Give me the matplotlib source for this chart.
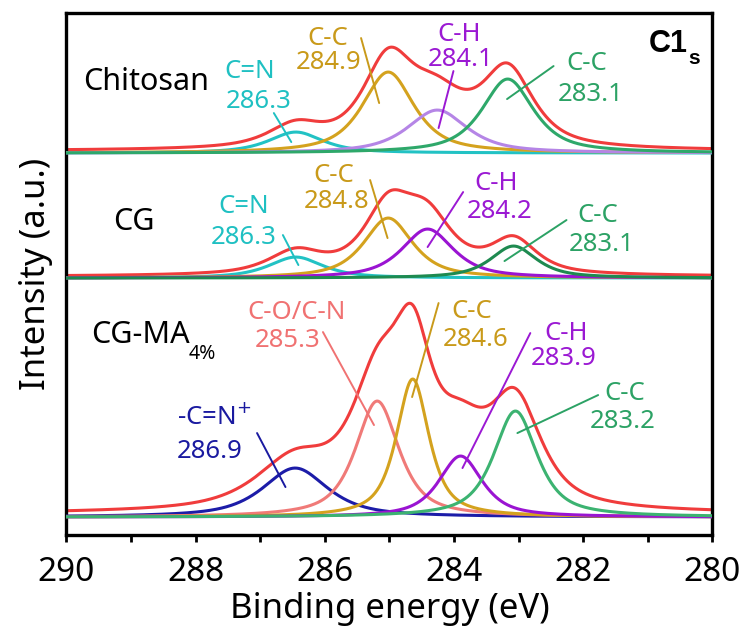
import numpy as np
import matplotlib
matplotlib.use("Agg")
import matplotlib.pyplot as plt

plt.rcParams['font.family'] = ['Noto Sans', 'DejaVu Sans']

# ---------------- data ----------------
energy = np.linspace(280, 290, 1201)

samples = ["Chitosan", "CG", "CG-MA"]
offsets = [382, 257, 18]           # vertical stacking offsets (a.u.)
env_gain = [1.03, 1.05, 0.97]      # envelope / sum-of-components ratio
env_broaden = [1.0, 1.0, 1.2]      # envelope (measured) broadening vs fitted peaks
env_bg = [2.0, 1.5, 3.0]
eta = 0.75                         # Lorentzian fraction of the pseudo-Voigt

# component peaks per sample: centre (eV), height (a.u.), FWHM (eV)
chitosan_names = ["C=N", "C-C", "C-H", "C-C"]
chitosan_centers = [286.45, 285.02, 284.26, 283.17]
chitosan_heights = [21, 81, 43, 74]
chitosan_fwhm = [1.0, 0.95, 1.1, 0.95]
chitosan_colors = ["#22c2c4", "#d4a21e", "#b585e6", "#2ea86a"]

cg_names = ["C=N", "C-C", "C-H", "C-C"]
cg_centers = [286.45, 285.02, 284.41, 283.08]
cg_heights = [21, 60, 49, 32]
cg_fwhm = [1.0, 0.9, 0.95, 0.85]
cg_colors = ["#22c2c4", "#d4a21e", "#9a14d2", "#1e8a50"]

cgma_names = ["-C=N+", "C-O/C-N", "C-C", "C-H", "C-C"]
cgma_centers = [286.46, 285.19, 284.64, 283.90, 283.05]
cgma_heights = [49, 116, 138, 61, 106]
cgma_fwhm = [1.2, 0.8, 0.6, 0.8, 0.8]
cgma_colors = ["#1c1ca8", "#f07a78", "#d4a21e", "#9a14d2", "#3cb371"]

envelope_color = "#f03c3c"

# labels: (line1, line2, colour, line1 pos, line2 pos, leader start, leader end)
label_color = {"cyan": "#1fc0c2", "gold": "#c99a1a", "purple": "#9b19d3",
               "green": "#2ca265", "salmon": "#f07272", "blue": "#1a1aa0"}
peak_labels = [
    ("C=N", "286.3", "cyan", (287.16, 464), (287.03, 434), (286.79, 422), (286.52, 393)),
    ("C-C", "284.9", "gold", (285.96, 497), (285.95, 473), (285.44, 497), (285.16, 432)),
    ("C-H", "284.1", "purple", (283.92, 501), (283.90, 476), (284.01, 464), (284.24, 407)),
    ("C-C", "283.1", "green", (281.95, 472), (281.89, 441), (282.46, 469), (283.18, 436)),
    ("C=N", "286.3", "cyan", (287.25, 329), (287.25, 298), (286.65, 300), (286.41, 270)),
    ("C-C", "284.8", "gold", (285.87, 360), (285.82, 334), (285.30, 355), (285.03, 297)),
    ("C-H", "284.2", "purple", (283.35, 352), (283.30, 324), (283.86, 343), (284.41, 288)),
    ("C-C", "283.1", "green", (281.77, 320), (281.72, 291), (282.26, 315), (283.22, 274)),
    ("-C=N$^{+}$", "286.9", "blue", (287.71, 117), (287.78, 84), (287.05, 102), (286.61, 48)),
    ("C-O/C-N", "285.3", "salmon", (286.44, 223), (286.57, 195), (286.03, 203), (285.24, 110)),
    ("C-C", "284.6", "gold", (283.73, 224), (283.67, 196), (284.24, 232), (284.65, 138)),
    ("C-H", "283.9", "purple", (282.26, 202), (282.31, 177), (282.82, 202), (283.87, 67)),
    ("C-C", "283.2", "green", (281.36, 142), (281.39, 114), (281.77, 140), (283.02, 102)),
]

xticks = [290, 288, 286, 284, 282, 280]


def pvoigt(x, c, h, w, eta=0.5):
    t = (x - c) / w
    lor = 1.0 / (1.0 + 4.0 * t ** 2)
    gau = np.exp(-4.0 * np.log(2) * t ** 2)
    return h * (eta * lor + (1 - eta) * gau)


fig = plt.figure(figsize=(7.47, 6.28), dpi=100)
ax = fig.add_axes([0.089, 0.148, 0.8648, 0.8312])

panels = [
    (chitosan_centers, chitosan_heights, chitosan_fwhm, chitosan_colors),
    (cg_centers, cg_heights, cg_fwhm, cg_colors),
    (cgma_centers, cgma_heights, cgma_fwhm, cgma_colors),
]

for (cen, hei, fw, cols), off, g, b, bg in zip(panels, offsets, env_gain,
                                                env_broaden, env_bg):
    comps = [pvoigt(energy, c, h, w, eta) for c, h, w in zip(cen, hei, fw)]
    env_parts = [pvoigt(energy, c, h, w * b, eta) for c, h, w in zip(cen, hei, fw)]
    env = g * np.sum(env_parts, axis=0) + bg
    ax.plot(energy, off + env, color=envelope_color, lw=2.2, zorder=2)
    for comp, col in zip(comps, cols):
        ax.plot(energy, off + comp, color=col, lw=2.2, zorder=3)

for l1, l2, ck, p1, p2, s, e in peak_labels:
    col = label_color[ck]
    ax.text(p1[0], p1[1], l1, color=col, fontsize=18.5, ha='center', va='center')
    ax.text(p2[0], p2[1], l2, color=col, fontsize=18.5, ha='center', va='center')
    ax.annotate("", xy=e, xytext=s,
                arrowprops=dict(arrowstyle='-', color=col, lw=1.4,
                                shrinkA=0, shrinkB=0))

ax.text(289.74, 453, "Chitosan", fontsize=22, ha='left', va='center')
ax.text(289.28, 313, "CG", fontsize=22, ha='left', va='center')
ax.text(289.62, 200, "CG-MA", fontsize=22, ha='left', va='center')
ax.text(288.11, 181, "4%", fontsize=14, ha='left', va='center')
ax.text(280.39, 491, "C1", fontsize=22, fontweight='bold', ha='right', va='center',
        family=['Liberation Sans', 'DejaVu Sans'])
ax.text(280.37, 477, "s", fontsize=15, fontweight='bold', ha='left', va='center',
        family=['Liberation Sans', 'DejaVu Sans'])

ax.set_xlim(290, 280)
ax.set_ylim(0, 522)
ax.set_xticks(xticks)
ax.set_xticklabels([str(t) for t in xticks])
ax.set_xticks(np.arange(280, 291, 1), minor=True)
ax.set_yticks([])
ax.tick_params(axis='x', which='both', direction='out', length=5, width=2,
               labelsize=24, pad=10)
for sp in ax.spines.values():
    sp.set_linewidth(2.4)
ax.set_xlabel("Binding energy (eV)", fontsize=25, labelpad=2)
ax.set_ylabel("Intensity (a.u.)", fontsize=25, labelpad=10)

fig.savefig("out.png", dpi=100)
